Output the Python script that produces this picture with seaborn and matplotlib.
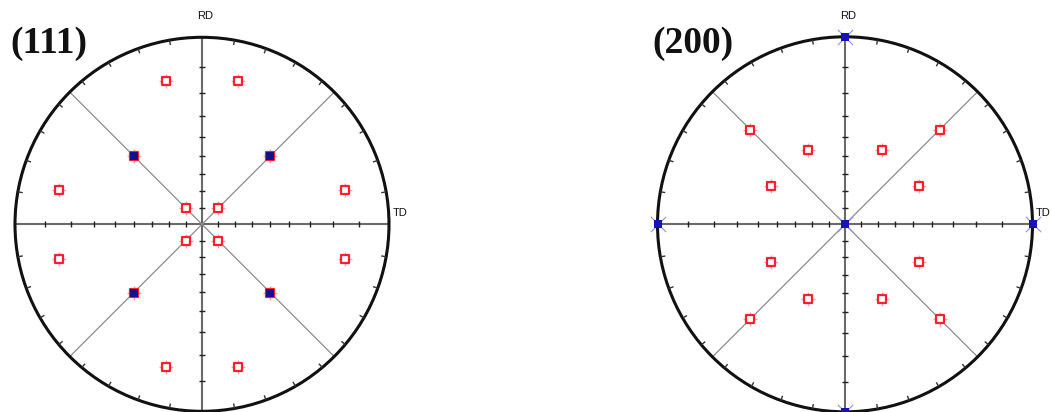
import numpy as np
import pandas as pd
import matplotlib
matplotlib.use("Agg")
import matplotlib.pyplot as plt
from matplotlib.collections import LineCollection
from matplotlib.patches import Circle
import seaborn as sns

# Pole positions: tilt from the sheet normal and azimuth from TD (degrees, CCW)
# {111} pole figure
p111_cube_tilt = [54.7, 54.7, 54.7, 54.7]
p111_cube_azim = [45, 135, 225, 315]
p111_twin_tilt = [14.0, 14.0, 14.0, 14.0,
                  54.7, 54.7, 54.7, 54.7,
                  76.5, 76.5, 76.5, 76.5, 76.5, 76.5, 76.5, 76.5]
p111_twin_azim = [45, 135, 225, 315,
                  45, 135, 225, 315,
                  13.5, 76.0, 104.0, 166.5, 193.5, 256.0, 284.0, 346.5]

# {200} pole figure
p200_cube_tilt = [0.0, 90.0, 90.0, 90.0, 90.0]
p200_cube_azim = [0, 0, 90, 180, 270]
p200_twin_tilt = [71.0, 71.0, 71.0, 71.0,
                  48.0, 48.0, 48.0, 48.0, 48.0, 48.0, 48.0, 48.0]
p200_twin_azim = [45, 135, 225, 315,
                  27.0, 63.5, 116.5, 153.0, 207.0, 243.5, 296.5, 333.0]

panel_titles = ["(111)", "(200)"]
axis_labels = ["RD", "TD"]
grid_tilts = [10, 20, 30, 40, 50, 60, 70, 80]

RED = "#ff1f2d"
PINK = "#ff9fb2"
NAVY = "#12128a"
BLUE = "#1515b0"
LIGHTBLUE = "#8f8fff"


def stereo(tilt, azim):
    t = np.radians(np.asarray(tilt, float))
    a = np.radians(np.asarray(azim, float))
    r = np.tan(t / 2.0)
    return pd.DataFrame({"x": r * np.cos(a), "y": r * np.sin(a)})


def draw_net(ax, R_px):
    # outer primitive circle
    ax.add_patch(Circle((0, 0), 1.0, fill=False, lw=2.2, ec="#111111",
                        zorder=2, clip_on=False))
    # RD / TD axes and the two diagonals
    ax.plot([-1, 1], [0, 0], color="#6a6a6a", lw=1.5, zorder=1)
    ax.plot([0, 0], [-1, 1], color="#6a6a6a", lw=1.5, zorder=1)
    d = np.cos(np.radians(45))
    ax.plot([-d, d], [-d, d], color="#8c8c8c", lw=0.9, zorder=1)
    ax.plot([-d, d], [d, -d], color="#8c8c8c", lw=0.9, zorder=1)
    # 10-degree ticks along the axes (stereographic spacing)
    h = 3.0 / R_px
    segs = []
    for t in grid_tilts:
        r = np.tan(np.radians(t) / 2)
        for s in (-1, 1):
            segs.append([(s * r, -h), (s * r, h)])
            segs.append([(-h, s * r), (h, s * r)])
    ax.add_collection(LineCollection(segs, colors="#222222", lw=1.0, zorder=2))
    # 10-degree ticks on the primitive, pointing inward
    L = 5.0 / R_px
    segs = []
    for ang in range(0, 360, 10):
        if ang % 90 == 0:
            continue
        a = np.radians(ang)
        segs.append([(np.cos(a), np.sin(a)),
                     ((1 - L) * np.cos(a), (1 - L) * np.sin(a))])
    ax.add_collection(LineCollection(segs, colors="#333333", lw=1.0, zorder=2))
    # labels
    ax.text(0.016, 1.113, axis_labels[0], ha="center", va="center",
            fontsize=8, family="Liberation Sans", color="#111111")
    ax.text(1.02, 0.058, axis_labels[1], ha="left", va="center",
            fontsize=8, family="Liberation Sans", color="#111111")


sns.set_style("white")
W, H = 1051, 412
fig = plt.figure(figsize=(W / 100, H / 100), dpi=100)

panels = [
    dict(cx=202.0, cy=224.3, R=187.0),
    dict(cx=845.0, cy=224.3, R=187.5),
]
lim = 1.1
axes = []
for p in panels:
    half = lim * p["R"]
    cyb = H - p["cy"]
    ax = fig.add_axes([(p["cx"] - half) / W, (cyb - half) / H,
                       2 * half / W, 2 * half / H])
    ax.set_xlim(-lim, lim)
    ax.set_ylim(-lim, lim)
    ax.set_aspect("equal")
    ax.set_axis_off()
    draw_net(ax, p["R"])
    axes.append(ax)

# {111}
ax = axes[0]
twin = stereo(p111_twin_tilt, p111_twin_azim)
cube = stereo(p111_cube_tilt, p111_cube_azim)
sns.scatterplot(data=twin, x="x", y="y", ax=ax, marker="+", s=105,
                color=PINK, linewidth=1.0, zorder=3, clip_on=False, legend=False)
sns.scatterplot(data=twin, x="x", y="y", ax=ax, marker="s", s=40,
                color="white", edgecolor=RED, linewidth=1.6, zorder=4,
                clip_on=False, legend=False)
sns.scatterplot(data=cube, x="x", y="y", ax=ax, marker="s", s=26,
                color=NAVY, linewidth=0, zorder=5, clip_on=False, legend=False)

# {200}
ax = axes[1]
twin = stereo(p200_twin_tilt, p200_twin_azim)
cube = stereo(p200_cube_tilt, p200_cube_azim)
sns.scatterplot(data=twin, x="x", y="y", ax=ax, marker="+", s=105,
                color=PINK, linewidth=1.0, zorder=3, clip_on=False, legend=False)
sns.scatterplot(data=twin, x="x", y="y", ax=ax, marker="s", s=40,
                color="white", edgecolor=RED, linewidth=1.6, zorder=4,
                clip_on=False, legend=False)
sns.scatterplot(data=cube, x="x", y="y", ax=ax, marker="x", s=120,
                color=LIGHTBLUE, linewidth=0.8, zorder=3, clip_on=False, legend=False)
sns.scatterplot(data=cube, x="x", y="y", ax=ax, marker="s", s=32,
                color=BLUE, linewidth=0, zorder=5, clip_on=False, legend=False)

# panel titles
title_x = [10, 652]
for tx, title in zip(title_x, panel_titles):
    fig.text(tx / W, 1 - 53 / H, title, ha="left", va="baseline",
             fontsize=27, fontweight="bold", family="Liberation Serif",
             color="#111111")

fig.savefig("out.png", dpi=100)
